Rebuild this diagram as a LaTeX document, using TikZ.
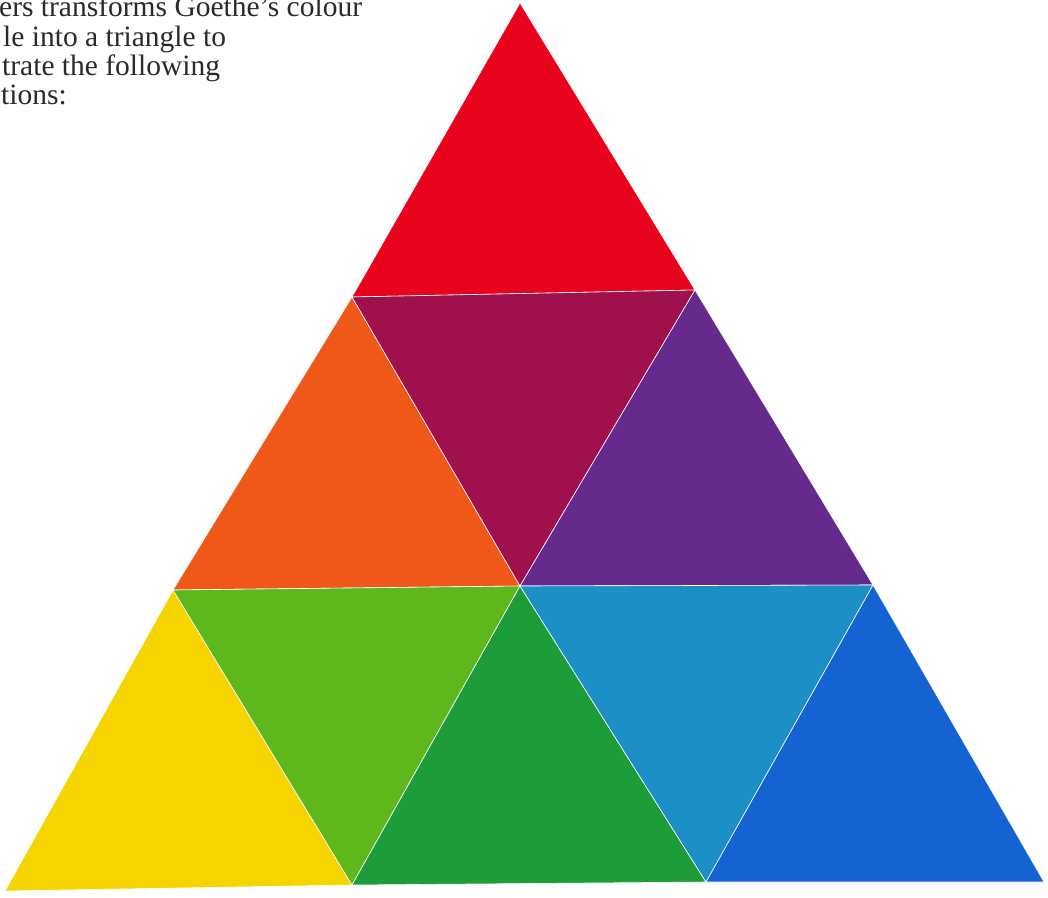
\documentclass[tikz,border=0pt]{standalone}
\usepackage{fontspec}
\setmainfont{Liberation Serif}
\definecolor{cred}{HTML}{E8041C}
\definecolor{ccrimson}{HTML}{A0104C}
\definecolor{corange}{HTML}{F0581A}
\definecolor{cpurple}{HTML}{66298C}
\definecolor{cyellow}{HTML}{F6D400}
\definecolor{cyg}{HTML}{5EB81C}
\definecolor{cgreen}{HTML}{1D9C3A}
\definecolor{ccyan}{HTML}{1C8FC6}
\definecolor{cblue}{HTML}{1563D3}
\definecolor{ctext}{HTML}{2A2A2A}
\tikzset{
  piece/.style={draw=white, line width=0.6pt, line join=round},
  txt/.style={anchor=base west, inner sep=0pt, font=\fontsize{29.5}{32}\selectfont, text=ctext}
}
\begin{document}
\begin{tikzpicture}[x=1pt,y=-1pt]
\useasboundingbox (0,0) rectangle (1048,897);
\fill[white] (0,0) rectangle (1048,897);
% vertices
\coordinate (A) at (520,3);
\coordinate (L1) at (352,297);
\coordinate (R1) at (695,290);
\coordinate (L2) at (173,590);
\coordinate (M2) at (520,586);
\coordinate (R2) at (873,585);
\coordinate (L3) at (5,891);
\coordinate (M3a) at (352,885);
\coordinate (M3b) at (706,882);
\coordinate (R3) at (1044,882);
% triangles
\filldraw[piece, fill=cred] (A) -- (L1) -- (R1) -- cycle;
\filldraw[piece, fill=corange] (L1) -- (L2) -- (M2) -- cycle;
\filldraw[piece, fill=ccrimson] (L1) -- (R1) -- (M2) -- cycle;
\filldraw[piece, fill=cpurple] (R1) -- (M2) -- (R2) -- cycle;
\filldraw[piece, fill=cyellow] (L2) -- (L3) -- (M3a) -- cycle;
\filldraw[piece, fill=cyg] (L2) -- (M2) -- (M3a) -- cycle;
\filldraw[piece, fill=cgreen] (M2) -- (M3a) -- (M3b) -- cycle;
\filldraw[piece, fill=ccyan] (M2) -- (R2) -- (M3b) -- cycle;
\filldraw[piece, fill=cblue] (R2) -- (M3b) -- (R3) -- cycle;
% text
\node[txt] (t1) at (-1,16) {ers transforms Goethe's colour};
\node[txt] (t2) at (3,46) {le into a triangle to};
\node[txt] (t3) at (2,75) {trate the following};
\node[txt] (t4) at (1,104) {tions:};
\end{tikzpicture}
\end{document}
